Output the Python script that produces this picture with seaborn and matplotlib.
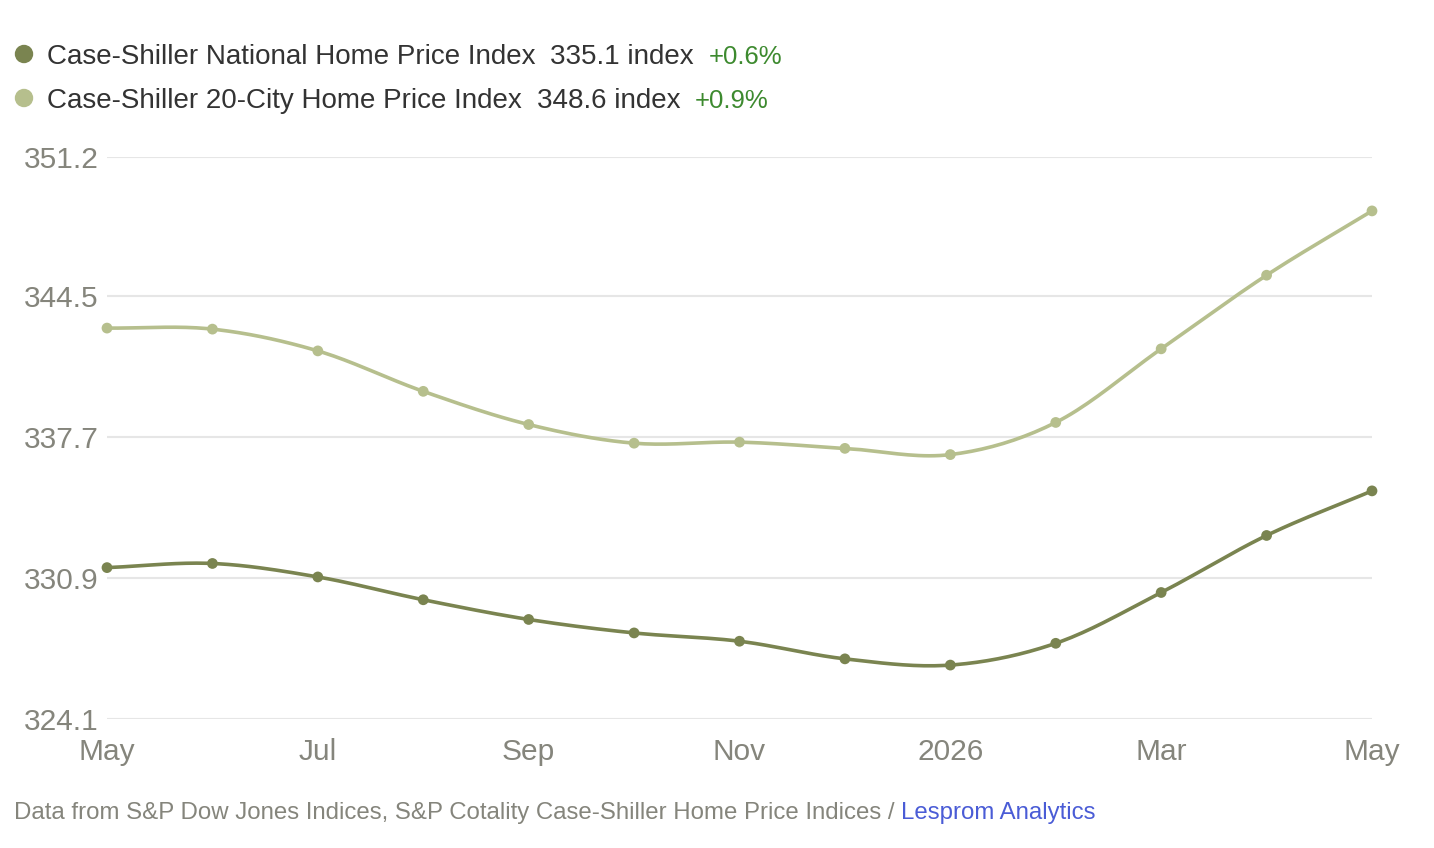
import numpy as np
import pandas as pd
import matplotlib
matplotlib.use("Agg")
import matplotlib.pyplot as plt
import seaborn as sns

# ---- data ----
months = ["2025-05", "2025-06", "2025-07", "2025-08", "2025-09", "2025-10", "2025-11",
          "2025-12", "2026-01", "2026-02", "2026-03", "2026-04", "2026-05"]
national = [331.4, 331.6, 330.95, 329.85, 328.9, 328.25, 327.85, 327.0, 326.7,
            327.75, 330.2, 332.95, 335.1]
city20 = [342.95, 342.9, 341.85, 339.9, 338.3, 337.4, 337.45, 337.15, 336.85,
          338.4, 341.95, 345.5, 348.6]
tick_labels = ["May", "Jul", "Sep", "Nov", "2026", "Mar", "May"]
y_ticks = [324.1, 330.9, 337.7, 344.5, 351.2]
series_names = ["Case-Shiller National Home Price Index", "Case-Shiller 20-City Home Price Index"]
last_values = ["335.1 index", "348.6 index"]
changes = ["+0.6%", "+0.9%"]

colors = ["#7a8450", "#b6bf8d"]
W, H = 1434, 848

sns.set_theme(style="white")
plt.rcParams["font.family"] = ["Liberation Sans", "DejaVu Sans"]

fig = plt.figure(figsize=(W / 100, H / 100), dpi=100)
ax = fig.add_axes([107 / W, 1 - 719 / H, (1372 - 107) / W, (719 - 157) / H])

idx = np.arange(len(months))
df = pd.DataFrame({"i": np.concatenate([idx, idx]),
                   "value": national + city20,
                   "series": [series_names[0]] * len(idx) + [series_names[1]] * len(idx)})


def smooth(x, y, n=20):
    # Catmull-Rom curve through the data points (rendering only)
    x = np.asarray(x, float); y = np.asarray(y, float)
    px = np.concatenate([[2 * x[0] - x[1]], x, [2 * x[-1] - x[-2]]])
    py = np.concatenate([[2 * y[0] - y[1]], y, [2 * y[-1] - y[-2]]])
    xs, ys = [], []
    t = np.linspace(0, 1, n, endpoint=False)
    for k in range(1, len(px) - 2):
        for arr, out in ((px, xs), (py, ys)):
            p0, p1, p2, p3 = arr[k - 1], arr[k], arr[k + 1], arr[k + 2]
            out.extend(0.5 * ((2 * p1) + (-p0 + p2) * t + (2 * p0 - 5 * p1 + 4 * p2 - p3) * t ** 2
                              + (-p0 + 3 * p1 - 3 * p2 + p3) * t ** 3))
    xs.append(x[-1]); ys.append(y[-1])
    return np.array(xs), np.array(ys)


for name, c in zip(series_names, colors):
    sub = df[df.series == name]
    sx, sy = smooth(sub.i, sub.value)
    ax.plot(sx, sy, color=c, lw=2.6, clip_on=False, zorder=3, solid_capstyle="round")

sns.scatterplot(data=df, x="i", y="value", hue="series", palette=colors, s=60,
                edgecolor="none", legend=False, ax=ax, zorder=4, clip_on=False)

ax.set_xlim(0, len(months) - 1)
ax.set_ylim(324.1, 351.2)
ax.set_yticks(y_ticks)
ax.set_yticklabels([f"{v:.1f}" for v in y_ticks])
ax.set_xticks(idx[::2])
ax.set_xticklabels(tick_labels)
ax.grid(axis="y", color="#e6e6e6", lw=1.5)
ax.grid(axis="x", visible=False)
for s in ax.spines.values():
    s.set_visible(False)
ax.set_xlabel("")
ax.set_ylabel("")
ax.tick_params(axis="y", length=0, pad=60, labelsize=21.5, labelcolor="#85857c")
ax.tick_params(axis="x", length=0, pad=14, labelsize=21.5, labelcolor="#85857c")
for lab in ax.get_yticklabels():
    lab.set_ha("left")

fig.canvas.draw()
renderer = fig.canvas.get_renderer()


def place(x_px, y_px, s, **kw):
    t = fig.text(x_px / W, 1 - y_px / H, s, va="center_baseline", **kw)
    bb = t.get_window_extent(renderer=renderer)
    return bb.x1


# legend header
rows_y = [54, 98]
for k in range(2):
    yf = 1 - rows_y[k] / H
    fig.patches.append(matplotlib.patches.Ellipse((24 / W, yf), 17 / W, 17 / H,
                                                  transform=fig.transFigure, color=colors[k]))
    x = place(47, rows_y[k], series_names[k], fontsize=20, color="#333333")
    x = place(x + 15, rows_y[k], last_values[k], fontsize=20, color="#333333")
    place(x + 15, rows_y[k], changes[k], fontsize=18.5, color="#3d8a2f")

x = place(14, 811, "Data from S&P Dow Jones Indices, S&P Cotality Case-Shiller Home Price Indices / ",
          fontsize=17.3, color="#85857c")
place(x, 811, "Lesprom Analytics", fontsize=17.3, color="#4a5cd6")

fig.savefig("out.png", dpi=100, facecolor="white")
